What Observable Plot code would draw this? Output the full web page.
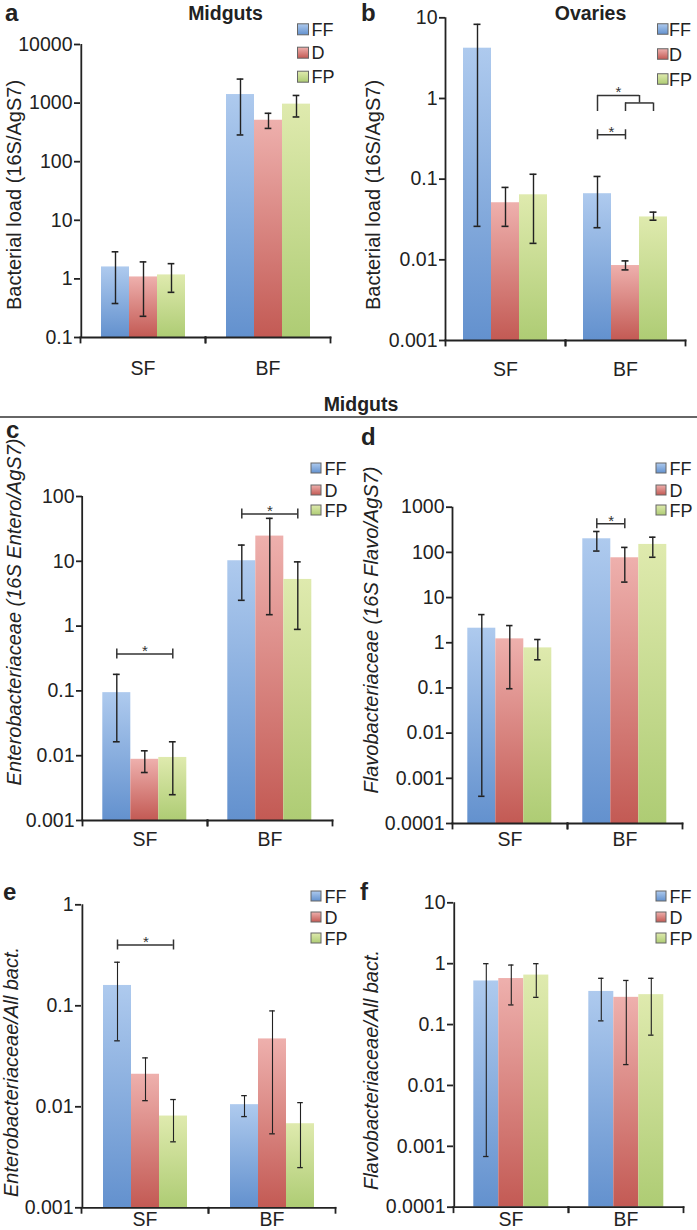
<!DOCTYPE html>
<html>
<head>
<meta charset="utf-8">
<script src="https://cdn.jsdelivr.net/npm/d3@7"></script>
<script src="https://cdn.jsdelivr.net/npm/@observablehq/plot@0.6"></script>
<style>
  html, body { margin: 0; padding: 0; background: #fff; }
  #fig { position: relative; width: 697px; height: 1230px; overflow: hidden; background: #fff; }
  #fig svg { position: absolute; }
</style>
</head>
<body>
<div id="fig"></div>
<script>
// ---------- data ----------
const groups = ["SF", "BF"];
const treatments = ["FF", "D", "FP"];
// order of values: SF-FF, SF-D, SF-FP, BF-FF, BF-D, BF-FP
const meanA = [1.6, 1.08, 1.17, 1400, 510, 960];
const lowA  = [0.38, 0.23, 0.59, 286, 370, 580];
const highA = [2.9, 1.95, 1.82, 2570, 670, 1350];

const meanB = [4.2, 0.051, 0.064, 0.066, 0.0085, 0.034];
const lowB  = [0.026, 0.026, 0.016, 0.025, 0.0075, 0.031];
const highB = [8.3, 0.079, 0.115, 0.108, 0.0097, 0.039];

const meanC = [0.094, 0.0088, 0.0094, 10.2, 24.5, 5.25];
const lowC  = [0.0164, 0.0055, 0.0025, 2.5, 1.5, 0.89];
const highC = [0.18, 0.0119, 0.0164, 17.8, 46, 9.8];

const meanD = [2.1, 1.22, 0.77, 200, 76, 150];
const lowD  = [0.0004, 0.096, 0.42, 107, 22, 78];
const highD = [4.2, 2.4, 1.18, 290, 129, 217];

const meanE = [0.159, 0.021, 0.0081, 0.0105, 0.047, 0.0068];
const lowE  = [0.045, 0.0115, 0.0045, 0.008, 0.0054, 0.0025];
const highE = [0.27, 0.0305, 0.0118, 0.0129, 0.089, 0.011];

const meanF = [0.52, 0.57, 0.65, 0.35, 0.28, 0.31];
const lowF  = [0.00068, 0.21, 0.28, 0.115, 0.022, 0.067];
const highF = [1.0, 0.95, 1.0, 0.575, 0.53, 0.575];

const ticksA = [0.1, 1, 10, 100, 1000, 10000];
const tickLabelsA = ["0.1", "1", "10", "100", "1000", "10000"];
const ticksB = [0.001, 0.01, 0.1, 1, 10];
const tickLabelsB = ["0.001", "0.01", "0.1", "1", "10"];
const ticksC = [0.001, 0.01, 0.1, 1, 10, 100];
const tickLabelsC = ["0.001", "0.01", "0.1", "1", "10", "100"];
const ticksD = [0.0001, 0.001, 0.01, 0.1, 1, 10, 100, 1000];
const tickLabelsD = ["0.0001", "0.001", "0.01", "0.1", "1", "10", "100", "1000"];
const ticksE = [0.001, 0.01, 0.1, 1];
const tickLabelsE = ["0.001", "0.01", "0.1", "1"];
const ticksF = [0.0001, 0.001, 0.01, 0.1, 1, 10];
const tickLabelsF = ["0.0001", "0.001", "0.01", "0.1", "1", "10"];

// significance brackets (level in data units)
const bracketsB = [{group: "BF", from: "FF", to: "D", level: 0.355}];
const nestedB = [{group: "BF", from: "FF", mid: "D", to: "FP", outer: 1.09, inner: 0.88, foot: 0.69}];
const bracketsC = [{group: "SF", from: "FF", to: "FP", level: 0.37}, {group: "BF", from: "FF", to: "FP", level: 53.5}];
const bracketsD = [{group: "BF", from: "FF", to: "D", level: 430}];
const bracketsE = [{group: "SF", from: "FF", to: "FP", level: 0.40}];

const panelLetters = ["a", "b", "c", "d", "e", "f"];
const panelTitles = ["Midguts", "Ovaries"];
const sectionTitle = "Midguts";
const yLabels = [
  "Bacterial load (16S/AgS7)",
  "Bacterial load (16S/AgS7)",
  "Enterobacteriaceae (16S Entero/AgS7)",
  "Flavobacteriaceae (16S Flavo/AgS7)",
  "Enterobacteriaceae/All bact.",
  "Flavobacteriaceae/All bact."
];

// ---------- styles ----------
const FONT = "'Liberation Sans', Arial, Helvetica, sans-serif";
const INK = "#222";
const gradTop = ["#aecaee", "#eeb0ad", "#dfeaae"];
const gradBottom = ["#6391ce", "#c35a54", "#aecc74"];

const fig = d3.select("#fig");
const defsSvg = fig.append("svg").attr("width", 0).attr("height", 0).style("left", 0).style("top", 0);
const defs = defsSvg.append("defs");
treatments.forEach((t, i) => {
  const g = defs.append("linearGradient").attr("id", `grad-${t}`)
    .attr("x1", 0).attr("y1", 0).attr("x2", 0).attr("y2", 1);
  g.append("stop").attr("offset", "0%").attr("stop-color", gradTop[i]);
  g.append("stop").attr("offset", "100%").attr("stop-color", gradBottom[i]);
});

// ---------- layout ----------
const panels = [
  {mean: meanA, low: lowA, high: highA, ticks: ticksA, labels: tickLabelsA, brackets: [], nested: [],
   left: 0, top: 0, width: 345, height: 385, L: 80, R: 330, T: 44, B: 337, bw: 28.3, xPad: 23.5, cap: 7, ebw: 1.4},
  {mean: meanB, low: lowB, high: highB, ticks: ticksB, labels: tickLabelsB, brackets: bracketsB, nested: nestedB,
   left: 350, top: 0, width: 345, height: 385, L: 445, R: 685, T: 17.3, B: 340, bw: 28, xPad: 21.5, cap: 7, ebw: 1.4},
  {mean: meanC, low: lowC, high: highC, ticks: ticksC, labels: tickLabelsC, brackets: bracketsC, nested: [],
   left: 0, top: 430, width: 345, height: 430, L: 81.7, R: 333, T: 496, B: 820, bw: 28.2, xPad: 11.5, cap: 7, ebw: 1.4},
  {mean: meanD, low: lowD, high: highD, ticks: ticksD, labels: tickLabelsD, brackets: bracketsD, nested: [],
   left: 350, top: 430, width: 345, height: 430, L: 451.7, R: 683.3, T: 506.7, B: 823, bw: 28.6, xPad: 8.5, cap: 7, ebw: 1.4},
  {mean: meanE, low: lowE, high: highE, ticks: ticksE, labels: tickLabelsE, brackets: bracketsE, nested: [],
   left: 0, top: 865, width: 345, height: 365, L: 81, R: 335, T: 904.3, B: 1207.3, bw: 28.4, xPad: 4.5, cap: 6, ebw: 1.1},
  {mean: meanF, low: lowF, high: highF, ticks: ticksF, labels: tickLabelsF, brackets: [], nested: [],
   left: 350, top: 865, width: 345, height: 365, L: 452.7, R: 683.3, T: 902.3, B: 1206.7, bw: 25.6, xPad: 5, cap: 6, ebw: 1.1}
];

function drawPanel(p) {
  const rows = [];
  groups.forEach((g, gi) => treatments.forEach((t, ti) => {
    const k = gi * treatments.length + ti;
    rows.push({group: g, treat: t, value: p.mean[k], lo: p.low[k], hi: p.high[k]});
  }));
  const band = (p.R - p.L) / groups.length;
  const po = (band - treatments.length * p.bw) / (2 * p.bw);
  const capInset = (p.bw - p.cap) / 2;
  const frameH = p.B - p.T;
  const yDomain = [p.ticks[0], p.ticks[p.ticks.length - 1]];
  const sw = 1.8;
  const bStroke = {stroke: "#333", strokeWidth: 1.5};

  const marks = [
    Plot.barY(rows, {fx: "group", x: "treat", y1: yDomain[0], y2: "value", fill: "treat"}),
    Plot.ruleX(rows, {fx: "group", x: "treat", y1: "lo", y2: "hi", stroke: INK, strokeWidth: p.ebw}),
    Plot.tickY(rows, {fx: "group", x: "treat", y: "lo", insetLeft: capInset, insetRight: capInset, stroke: INK, strokeWidth: p.ebw + 0.2}),
    Plot.tickY(rows, {fx: "group", x: "treat", y: "hi", insetLeft: capInset, insetRight: capInset, stroke: INK, strokeWidth: p.ebw + 0.2}),
    // x axis line and boundary ticks
    Plot.frame({anchor: "bottom", stroke: INK, strokeWidth: sw}),
    Plot.frame({anchor: "left", insetTop: frameH, insetBottom: -5, stroke: INK, strokeWidth: sw}),
    Plot.frame({anchor: "right", insetTop: frameH, insetBottom: -5, stroke: INK, strokeWidth: sw}),
    // y axis line, drawn at the left edge of the first group only
    Plot.ruleX([{group: groups[0]}], {fx: "group", x: () => treatments[0], y1: yDomain[0], y2: yDomain[1],
      dx: -(po + 0.5) * p.bw, stroke: INK, strokeWidth: sw}),
    Plot.axisY({ticks: p.ticks, tickFormat: (d) => p.labels[p.ticks.indexOf(d)], tickSize: 6, tickPadding: 2,
                stroke: INK, strokeWidth: sw, label: null}),
    Plot.axisFx({anchor: "bottom", tickSize: 0, tickPadding: p.xPad, label: null})
  ];

  if (p.brackets.length) {
    marks.push(
      Plot.ruleY(p.brackets, {fx: "group", x1: "from", x2: "to", y: "level", insetLeft: p.bw / 2, insetRight: p.bw / 2, ...bStroke}),
      Plot.ruleX(p.brackets, {fx: "group", x: "from", y1: "level", y2: "level", insetTop: -5, insetBottom: -5, ...bStroke}),
      Plot.ruleX(p.brackets, {fx: "group", x: "to", y1: "level", y2: "level", insetTop: -5, insetBottom: -5, ...bStroke}),
      ...p.brackets.map((b) => Plot.text([b], {
        fx: "group", x: "from", y: "level", text: () => "*",
        dx: (treatments.indexOf(b.to) - treatments.indexOf(b.from)) * p.bw / 2, dy: -3,
        fontSize: 15, fill: "#333"
      }))
    );
  }
  if (p.nested.length) {
    marks.push(
      Plot.ruleY(p.nested, {fx: "group", x1: "mid", x2: "to", y: "inner", insetLeft: p.bw / 2, insetRight: p.bw / 2, ...bStroke}),
      Plot.ruleX(p.nested, {fx: "group", x: "mid", y1: "foot", y2: "inner", ...bStroke}),
      Plot.ruleX(p.nested, {fx: "group", x: "to", y1: "foot", y2: "inner", ...bStroke}),
      Plot.ruleY(p.nested, {fx: "group", x1: "from", x2: "mid", y: "outer", insetLeft: p.bw / 2, insetRight: 0, ...bStroke}),
      Plot.ruleX(p.nested, {fx: "group", x: "from", y1: "foot", y2: "outer", ...bStroke}),
      Plot.ruleX(p.nested, {fx: "group", x: "to", y1: "inner", y2: "outer", dx: -p.bw / 2, ...bStroke}),
      Plot.text(p.nested, {fx: "group", x: "from", y: "outer", text: () => "*", dx: 0.75 * p.bw, dy: -3, fontSize: 15, fill: "#333"})
    );
  }

  const svg = Plot.plot({
    width: p.width,
    height: p.height,
    marginLeft: p.L - p.left,
    marginRight: p.left + p.width - p.R,
    marginTop: p.T - p.top,
    marginBottom: p.top + p.height - p.B,
    fx: {domain: groups, padding: 0, label: null},
    x: {domain: treatments, paddingInner: 0, paddingOuter: po, axis: null},
    y: {type: "log", domain: yDomain},
    color: {domain: treatments, range: treatments.map((t) => `url(#grad-${t})`)},
    style: `font-family: ${FONT}; font-size: 19.5px; color: ${INK}; background: none; overflow: visible;`,
    marks
  });
  svg.style.position = "absolute";
  svg.style.left = p.left + "px";
  svg.style.top = p.top + "px";
  svg.style.maxWidth = "none";
  fig.node().appendChild(svg);
}

panels.forEach(drawPanel);

// ---------- overlay: letters, titles, legends, y labels ----------
const ov = fig.append("svg").attr("width", 697).attr("height", 1230)
  .style("left", 0).style("top", 0).style("pointer-events", "none")
  .style("font-family", FONT).attr("fill", INK);

const letterPos = [[5, 21], [361, 21], [6, 438], [361, 445], [3, 900], [360, 900]];
panelLetters.forEach((l, i) => {
  ov.append("text").attr("x", letterPos[i][0]).attr("y", letterPos[i][1])
    .attr("font-size", 24).attr("font-weight", "bold").text(l);
});

const titlePos = [[225.5, 20], [590.5, 20]];
panelTitles.forEach((t, i) => {
  ov.append("text").attr("x", titlePos[i][0]).attr("y", titlePos[i][1]).attr("text-anchor", "middle")
    .attr("font-size", 19.5).attr("font-weight", "bold").text(t);
});

ov.append("text").attr("x", 361).attr("y", 410.5).attr("text-anchor", "middle")
  .attr("font-size", 19.5).attr("font-weight", "bold").text(sectionTitle);
ov.append("line").attr("x1", 0).attr("x2", 697).attr("y1", 417).attr("y2", 417)
  .attr("stroke", "#333").attr("stroke-width", 1.6);

const yLabelPos = [[21, 195], [379.5, 195], [21.3, 612], [377.5, 630], [17.8, 1072], [377.5, 1070]];
const yLabelItalic = [false, false, true, true, true, true];
yLabels.forEach((t, i) => {
  ov.append("text").attr("transform", `translate(${yLabelPos[i][0]},${yLabelPos[i][1]}) rotate(-90)`)
    .attr("text-anchor", "middle").attr("font-size", 20)
    .attr("font-style", yLabelItalic[i] ? "italic" : "normal").text(t);
});

const legendPos = [
  {sx: 297.5, tx: 311.5, ys: [29.3, 52.7, 76.7], s: 11},
  {sx: 657.5, tx: 669, ys: [29, 54, 79], s: 10.5},
  {sx: 311, tx: 324.5, ys: [468, 490, 510], s: 10},
  {sx: 656, tx: 669.5, ys: [468, 490, 510], s: 10},
  {sx: 311, tx: 324.5, ys: [896, 917, 938], s: 10},
  {sx: 656, tx: 669.5, ys: [896, 917, 938], s: 10}
];
legendPos.forEach((lg) => {
  treatments.forEach((t, i) => {
    ov.append("rect").attr("x", lg.sx).attr("y", lg.ys[i] - lg.s / 2).attr("width", lg.s).attr("height", lg.s)
      .attr("fill", `url(#grad-${t})`).attr("stroke", "#666").attr("stroke-width", 1);
    ov.append("text").attr("x", lg.tx).attr("y", lg.ys[i] + 6.5).attr("font-size", 18).text(t);
  });
});
</script>
</body>
</html>
